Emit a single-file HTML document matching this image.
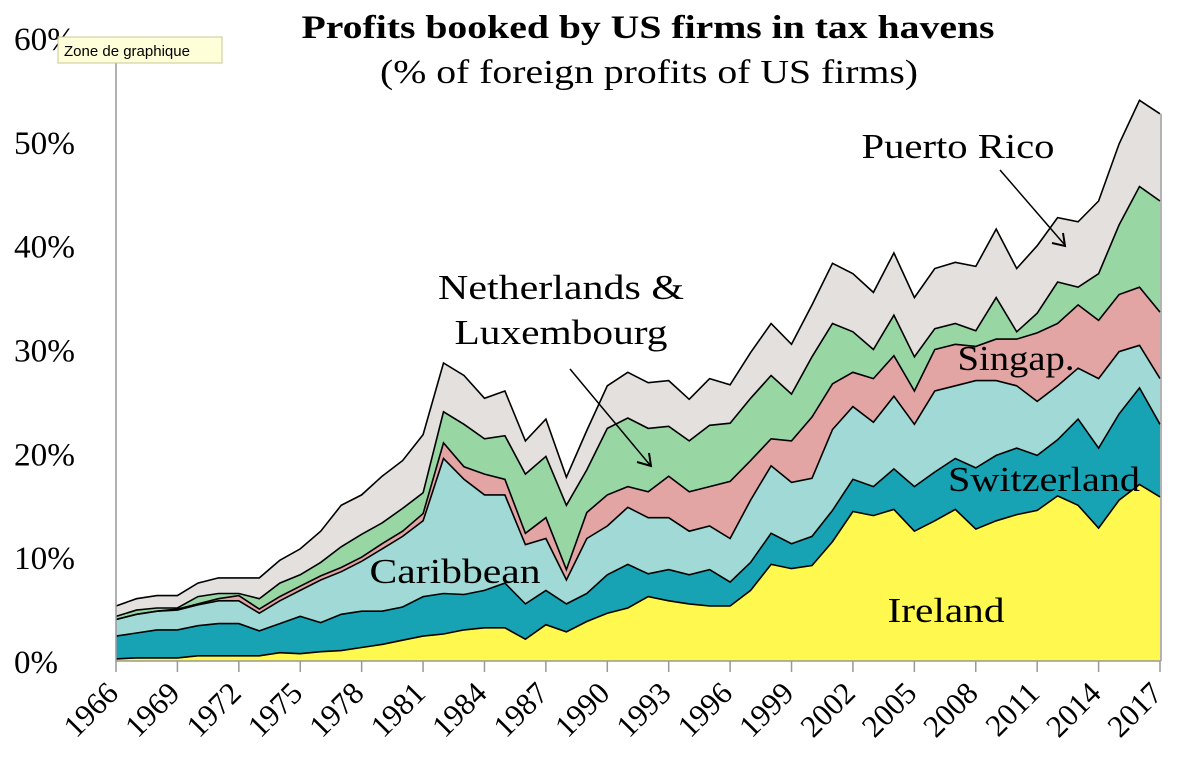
<!DOCTYPE html>
<html><head><meta charset="utf-8">
<style>
body{margin:0;background:#fff;width:1200px;height:774px;overflow:hidden}
svg{display:block}
text{font-family:"Liberation Serif",serif;fill:#000}
</style></head>
<body>
<svg id="chart" width="1200" height="774">
<text x="648" y="38" text-anchor="middle" font-size="33" font-weight="bold" textLength="693" lengthAdjust="spacingAndGlyphs">Profits booked by US firms in tax havens</text>
<text x="649" y="83" text-anchor="middle" font-size="34" textLength="538" lengthAdjust="spacingAndGlyphs">(% of foreign profits of US firms)</text>
<g id="areas"></g>
<g id="axes"></g>
<g>
<text x="958" y="158" text-anchor="middle" font-size="35" textLength="193" lengthAdjust="spacingAndGlyphs">Puerto Rico</text>
<line x1="1000" y1="170" x2="1064" y2="244" stroke="#000" stroke-width="1.5"/>
<polyline points="1052,243 1065,246 1063,233" fill="none" stroke="#000" stroke-width="2"/>
<text x="561" y="299" text-anchor="middle" font-size="35" textLength="246" lengthAdjust="spacingAndGlyphs">Netherlands &amp;</text>
<text x="561" y="344" text-anchor="middle" font-size="35" textLength="213" lengthAdjust="spacingAndGlyphs">Luxembourg</text>
<line x1="570" y1="369" x2="650" y2="465" stroke="#000" stroke-width="1.5"/>
<polyline points="637,462 651,466 649,453" fill="none" stroke="#000" stroke-width="2"/>
<text x="1016" y="370" text-anchor="middle" font-size="35" textLength="117" lengthAdjust="spacingAndGlyphs">Singap.</text>
<text x="455" y="583" text-anchor="middle" font-size="35" textLength="171" lengthAdjust="spacingAndGlyphs">Caribbean</text>
<text x="1044" y="491" text-anchor="middle" font-size="35" textLength="192" lengthAdjust="spacingAndGlyphs">Switzerland</text>
<text x="946" y="622" text-anchor="middle" font-size="35" textLength="117" lengthAdjust="spacingAndGlyphs">Ireland</text>
</g>
<g>
<rect x="58" y="37" width="164" height="26" fill="#fefed8" stroke="#c9c79a" stroke-width="1"/>
<text x="64" y="56" style="font-family:'Liberation Sans',sans-serif" font-size="15" fill="#333">Zone de graphique</text>
</g>
</svg>
<script>
// Years
const years = Array.from({length:52},(_,i)=>1966+i);
// Stacked cumulative tops (% of foreign profits)
const irelandTop = [0.2,0.3,0.3,0.3,0.5,0.5,0.5,0.5,0.8,0.7,0.9,1.0,1.3,1.6,2.0,2.4,2.6,3.0,3.2,3.2,2.1,3.5,2.8,3.8,4.6,5.1,6.2,5.8,5.5,5.3,5.3,6.8,9.3,8.9,9.2,11.5,14.4,14.0,14.6,12.5,13.5,14.6,12.7,13.5,14.1,14.5,15.9,15.0,12.8,15.5,17.0,15.8];
const switzerlandTop = [2.4,2.7,3.0,3.0,3.4,3.6,3.6,2.9,3.6,4.3,3.7,4.5,4.8,4.8,5.2,6.2,6.5,6.4,6.8,7.5,5.5,6.8,5.5,6.5,8.3,9.3,8.4,8.8,8.3,8.8,7.6,9.5,12.3,11.3,12.0,14.5,17.5,16.8,18.5,16.8,18.2,19.5,18.6,19.8,20.5,19.8,21.3,23.3,20.5,23.8,26.3,22.8];
const caribbeanTop = [4.0,4.5,4.8,4.9,5.4,5.8,5.8,4.6,5.8,6.8,7.8,8.6,9.6,10.8,12.0,13.5,19.5,17.5,16.0,16.0,11.2,11.8,7.8,11.8,13.0,14.8,13.8,13.8,12.5,13.0,11.8,15.5,18.8,17.2,17.6,22.3,24.5,23.0,25.5,22.8,26.0,26.5,27.0,27.0,26.5,25.0,26.5,28.2,27.2,29.8,30.4,27.2];
const singaporeTop = [4.0,4.5,4.8,5.0,5.5,6.0,6.3,5.0,6.2,7.2,8.2,9.0,10.0,11.3,12.5,14.2,21.0,18.7,18.0,17.5,12.3,13.8,8.8,14.3,16.0,16.8,16.3,17.8,16.3,16.8,17.3,19.3,21.4,21.2,23.5,26.7,27.8,27.2,29.4,26.0,30.0,30.5,30.3,31.0,31.0,31.6,32.5,34.3,32.8,35.3,36.0,33.6];
const netherlandsTop = [4.3,4.9,5.1,5.1,6.2,6.5,6.5,6.0,7.5,8.3,9.5,11.0,12.2,13.3,14.7,16.2,24.0,22.8,21.4,21.7,18.0,19.7,15.0,18.4,22.4,23.4,22.4,22.6,21.2,22.7,22.9,25.3,27.5,25.7,29.3,32.5,31.7,30.0,33.3,29.3,32.0,32.5,31.8,35.0,31.7,33.5,36.5,36.0,37.3,42.0,45.7,44.3];
const puertoRicoTop = [5.3,6.0,6.3,6.3,7.5,8.0,8.0,8.0,9.7,10.8,12.5,15.0,16.0,17.8,19.3,21.8,28.7,27.5,25.3,26.0,21.2,23.3,17.7,22.2,26.5,27.8,26.8,27.0,25.2,27.2,26.6,29.7,32.5,30.5,34.3,38.3,37.3,35.5,39.3,35.0,37.8,38.4,38.0,41.6,37.8,40.0,42.7,42.3,44.3,49.8,54.0,52.7];
const yTicks = [0,10,20,30,40,50,60];
const yTickLabels = ["0%","10%","20%","30%","40%","50%","60%"];

const NS="http://www.w3.org/2000/svg";
const X0=116,X1=1160,Y0=661,Y60=38;
const xScale = yr => X0+(yr-years[0])*(X1-X0)/(years[years.length-1]-years[0]);
const yScale = v => Y0-v*(Y0-Y60)/60;

const layers=[
 {name:"area-puerto-rico",top:puertoRicoTop,bot:netherlandsTop,color:"#e3e0de"},
 {name:"area-netherlands-luxembourg",top:netherlandsTop,bot:singaporeTop,color:"#98d6a4"},
 {name:"area-singapore",top:singaporeTop,bot:caribbeanTop,color:"#e3a4a4"},
 {name:"area-caribbean",top:caribbeanTop,bot:switzerlandTop,color:"#a0d9d5"},
 {name:"area-switzerland",top:switzerlandTop,bot:irelandTop,color:"#17a3b3"},
 {name:"area-ireland",top:irelandTop,bot:null,color:"#fff94f"}
];
const ga=document.getElementById('areas');
layers.forEach(L=>{
  let pts=years.map((y,i)=>xScale(y).toFixed(1)+","+yScale(L.top[i]).toFixed(1));
  let bot=L.bot?years.map((y,i)=>xScale(y).toFixed(1)+","+yScale(L.bot[i]).toFixed(1)).reverse():[xScale(years[years.length-1])+","+Y0, X0+","+Y0];
  const p=document.createElementNS(NS,'polygon');
  p.setAttribute('points',pts.concat(bot).join(' '));
  p.setAttribute('fill',L.color);
  p.setAttribute('stroke','none');
  
  
  ga.appendChild(p);
});
layers.forEach(L=>{
  const l=document.createElementNS(NS,'polyline');
  l.setAttribute('points',years.map((y,i)=>xScale(y).toFixed(1)+","+yScale(L.top[i]).toFixed(1)).join(' '));
  l.setAttribute('fill','none');l.setAttribute('stroke','#000');l.setAttribute('stroke-width','1.6');
  
  
  ga.appendChild(l);
});
const gx=document.getElementById('axes');
function el(tag,attrs){const e=document.createElementNS(NS,tag);for(const k in attrs)e.setAttribute(k,attrs[k]);gx.appendChild(e);return e;}
const ya=el('line',{x1:X0,y1:Y60,x2:X0,y2:Y0,stroke:'#999','stroke-width':1.5});


const xa=el('line',{x1:X0,y1:Y0,x2:X1+1,y2:Y0,stroke:'#999','stroke-width':1.5});


const ra=el('line',{x1:X1+1,y1:yScale(puertoRicoTop[puertoRicoTop.length-1]),x2:X1+1,y2:Y0,stroke:'#999','stroke-width':1.5});


yTicks.forEach((v,i)=>{
  const t=el('text',{x:14,y:yScale(v)+12,'font-size':33,textLength:(yTickLabels[i].length===2?44:61),lengthAdjust:'spacingAndGlyphs'});
  t.textContent=yTickLabels[i];
  
  
});
years.forEach((yr,i)=>{
  if(i%3!==0 && yr!==2017) return;
  const x=xScale(yr);
  const tk=el('line',{x1:x,y1:Y0,x2:x,y2:672,stroke:'#999','stroke-width':1.5});
  
  
  const t=el('text',{x:x+4,y:695,'font-size':31,'text-anchor':'end',transform:`rotate(-45 ${x+4} 695)`});
  t.textContent=yr;
  
  
});
</script>
</body></html>
